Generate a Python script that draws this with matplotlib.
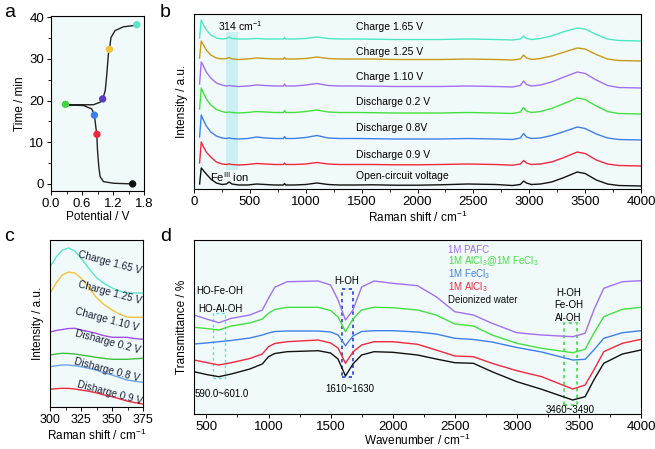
import matplotlib
matplotlib.use('Agg')
import matplotlib.pyplot as plt
from matplotlib.ticker import AutoMinorLocator
from matplotlib.patches import Rectangle

plt.rcParams['font.family'] = ['Liberation Sans', 'DejaVu Sans']
plt.rcParams['mathtext.fontset'] = 'custom'
plt.rcParams['mathtext.rm'] = 'Liberation Sans'
plt.rcParams['mathtext.it'] = 'Liberation Sans'

# ---------------- panel a : time vs potential ----------------
a_curve_v = [1.575, 1.21, 1.015, 0.95, 0.925, 0.90, 0.887, 0.868, 0.842, 0.79, 0.63, 0.31, 0.28,
             0.50, 0.82, 0.95, 1.0, 1.05, 1.08, 1.11, 1.13, 1.16, 1.24, 1.40, 1.66]
a_curve_t = [0, 0.16, 0.55, 1.75, 4.1, 8.1, 11.8, 13.6, 16.4, 18.0, 18.8, 19.0, 19.0,
             19.0, 19.0, 19.6, 20.4, 22.4, 26.3, 31.1, 32.1, 35.1, 36.8, 37.7, 38.1]
a_pts_v = [1.58, 0.89, 0.84, 0.28, 1.0, 1.13, 1.66]
a_pts_t = [0.0, 11.9, 16.5, 19.1, 20.4, 32.3, 38.2]
a_pts_c = ['#111111', '#f0283c', '#3f7fe8', '#44d040', '#5a3cc8', '#f3c13a', '#5ae6c8']

# ---------------- panel b : Raman spectra ----------------
raman_x = [50, 65, 80, 110, 150, 200, 250, 290, 314, 340, 400, 480, 560, 640, 720, 800, 810, 820,
           900, 1000, 1100, 1200, 1300, 1450, 1600, 1800, 2000, 2200, 2450, 2700, 2850, 2920, 2950,
           2975, 3020, 3100, 3200, 3300, 3430, 3500, 3600, 3700, 3800, 4000]
raman_ocv = [5, 21, 19, 15, 10, 6, 4.5, 5, 7, 5, 4, 4, 5, 4.5, 4, 4, 5.5, 4, 4, 4.5, 6, 4.5, 4, 4,
             4.2, 3.8, 3.8, 4.2, 5, 4.5, 3.5, 4.5, 8, 6, 4.5, 5, 7, 11, 17, 15.5, 9, 5, 3.5, 3]
raman_d09 = [26, 47, 43, 37, 32, 27, 25, 24.5, 25, 24.5, 24, 24.5, 25.5, 25, 24.5, 24.5, 26, 24.5,
             24.5, 25, 26.5, 25, 24.5, 24.5, 24.5, 24.2, 24.2, 24.5, 25, 24.5, 23.8, 25, 28.5, 26,
             24.5, 25, 27, 31, 37, 35.5, 29, 25, 23.5, 23]
raman_d08 = [52, 74, 70, 63, 57, 53, 51, 50.5, 51, 50.5, 50, 50.5, 52, 51, 50.5, 50.5, 52.5, 50.5,
             50.5, 51.5, 53.5, 51, 50.5, 50.5, 50.3, 50, 50, 50, 50.5, 50, 49.5, 51, 55.5, 52,
             50.5, 51, 53.5, 57, 62, 60.5, 55, 51, 49.5, 49]
raman_d02 = [80, 101, 97, 90, 84, 79.5, 77.5, 76.5, 77, 76.5, 76, 76.5, 77.5, 77, 76.5, 76.5, 78.5,
             76.5, 76.5, 77.5, 79, 77, 76.5, 76.5, 76.3, 76, 76, 76, 76.5, 76, 75.5, 77, 81.5, 78,
             76.5, 77.5, 80.5, 85, 91, 89.5, 83, 77.5, 75.5, 75]
raman_c110 = [105, 127, 124, 117, 111, 106, 104, 103, 103.5, 103, 102.5, 103, 104, 103.5, 103, 103,
              105, 103, 103, 104, 105.5, 103.5, 103, 103, 102.8, 102.5, 102.5, 102.5, 103, 102.5,
              102, 103.5, 108, 104.5, 103, 104, 107, 111.5, 117, 115.5, 109, 103.5, 101.5, 101]
raman_c125 = [131, 148, 145, 139, 134, 131, 130, 130.5, 131.5, 130, 129.5, 130, 131, 130.5, 130, 130,
              131.5, 130, 130, 130.5, 132, 130.5, 130, 130, 130, 129.5, 129.5, 129.5, 130, 129.5,
              129, 130, 134, 131, 129.5, 130.5, 133, 136.5, 141, 140, 134.5, 130, 128.5, 128]
raman_c165 = [151, 169, 165, 159, 154, 151, 150, 150.5, 152, 150.5, 150, 150, 150.5, 150, 150, 150,
              151.5, 150, 150, 150.5, 152, 150.5, 150, 150, 149.8, 149.5, 149.5, 149.5, 150, 149.5,
              149, 150, 153, 150.5, 149.5, 150.5, 153, 157, 161, 160, 154.5, 150, 148.5, 148]
raman_series = [raman_ocv, raman_d09, raman_d08, raman_d02, raman_c110, raman_c125, raman_c165]
raman_colors = ['#111111', '#f0283c', '#3f7fe8', '#44e040', '#a070f0', '#c89a18', '#4de8c0']
raman_labels = ['Open-circuit voltage', 'Discharge 0.9 V', 'Discharge 0.8V', 'Discharge 0.2 V',
                'Charge 1.10 V', 'Charge 1.25 V', 'Charge 1.65 V']
raman_label_y = [13, 34, 61, 87, 112, 137, 162]

# ---------------- panel c : zoom near 314 cm-1 ----------------
zoom_x = [300, 305, 310, 315, 320, 325, 331, 337, 343, 350, 356, 362, 368, 375]
zoom_c165 = [140, 150, 157, 159, 156, 149, 139, 130, 124, 119, 116, 114, 114, 114]
zoom_c125 = [113.7, 124, 132, 135, 134, 129, 120, 110, 103, 97, 93, 90, 89.7, 89.7]
zoom_c110 = [75, 76.5, 77.5, 78.5, 78.7, 77, 75.5, 73.7, 71.5, 69.7, 69.7, 69.7, 68.5, 67.7]
zoom_d02 = [52, 53, 53.7, 53.5, 53, 52, 51, 49.7, 48.7, 47.7, 47.7, 47.7, 48.2, 48.7]
zoom_d08 = [40.3, 41.3, 42, 42, 41.3, 40.3, 38.8, 37, 34.5, 32, 29.5, 27, 25.8, 24.7]
zoom_d09 = [17.7, 18.3, 18.7, 18.6, 18, 17, 15.8, 14.3, 12.3, 10.3, 8.2, 6, 4.5, 3]
zoom_series = [zoom_d09, zoom_d08, zoom_d02, zoom_c110, zoom_c125, zoom_c165]
zoom_colors = ['#f0283c', '#6aa4ec', '#3cc040', '#a050e0', '#f3c13a', '#5ae6c8']
zoom_labels = ['Disharge 0.9 V', 'Disharge 0.8 V', 'Disharge 0.2 V',
               'Charge 1.10 V', 'Charge 1.25 V', 'Charge 1.65 V']
zoom_label_x = [348, 345.5, 346.8, 345.5, 348, 348]
zoom_label_y = [14, 37, 65, 87, 114, 144]

# ---------------- panel d : FTIR ----------------
ftir_x = [400, 500, 600, 700, 850, 950, 1000, 1050, 1150, 1400, 1500, 1560, 1620, 1680, 1750,
          1850, 2000, 2200, 2350, 2500, 2650, 2800, 3000, 3200, 3450, 3550, 3620, 3700, 3850, 4000]
ftir_pafc = [99, 95, 91.3, 95.7, 99, 104, 115.7, 126.7, 132.3, 133, 129, 114, 94, 104, 127, 133,
             130.7, 128.3, 117.3, 102.3, 99, 90.7, 81.3, 79, 77.3, 80.7, 104, 125.7, 132.3, 133.3]
ftir_mix = [86.7, 85.5, 84, 88, 91, 95, 100.7, 104.5, 106.7, 106.7, 103.5, 97, 82.3, 95, 104, 106.7,
            106.3, 104, 99, 90, 88, 79, 70.7, 65.7, 61.3, 64.7, 80.7, 97.3, 104.7, 106.7]
ftir_fecl3 = [70, 71, 72.3, 73.5, 76, 79, 81, 82.5, 83, 83, 82, 79, 68.3, 78, 82.5, 83.3, 83.3, 82,
              80, 75.7, 74.5, 72, 66.5, 62, 54, 54.7, 64, 75.7, 81.3, 83.3]
ftir_alcl3 = [54, 51.5, 49, 51.3, 55.5, 60, 67.3, 70.5, 72.3, 74, 71, 66, 50.7, 62, 69, 72.3, 72.3,
              69.7, 64, 58, 57.3, 50.7, 43.3, 37.3, 25, 29, 44, 62.3, 70.7, 74.7]
ftir_water = [42.3, 39.5, 37.3, 40, 45, 50, 57.3, 60.5, 62.3, 63.3, 61, 55, 38, 50, 59, 62.3, 61.7,
              59, 55, 51.3, 50.7, 42.3, 32.3, 24.7, 14, 17.3, 34, 50.7, 60, 64]
ftir_series = [ftir_water, ftir_alcl3, ftir_fecl3, ftir_mix, ftir_pafc]
ftir_colors = ['#111111', '#f0283c', '#3f7fe8', '#44e040', '#a070f0']
ftir_labels = ['Deionized water', '1M AlCl$_3$', '1M FeCl$_3$', '1M AlCl$_3$@1M FeCl$_3$', '1M PAFC']
ftir_label_y = [114, 126.7, 140, 153, 164]

W, H = 655, 449
fig = plt.figure(figsize=(W / 100, H / 100), dpi=100)
bg = '#f1fafa'


def px_axes(left, top, right, bottom, tsize=9.5):
    ax = fig.add_axes([left / W, 1 - bottom / H, (right - left) / W, (bottom - top) / H])
    ax.set_facecolor(bg)
    for s in ax.spines.values():
        s.set_linewidth(0.8)
    ax.tick_params(direction='out', labelsize=tsize, length=3, width=0.7, pad=2)
    ax.tick_params(which='minor', direction='out', length=2, width=0.6)
    return ax


# panel a
ax = px_axes(51, 16, 144, 191)
ax.plot(a_curve_v, a_curve_t, color='#222222', lw=1.0, zorder=2)
ax.scatter(a_pts_v, a_pts_t, c=a_pts_c, s=28, zorder=3, edgecolors='none')
ax.set_xlim(0, 1.8)
ax.set_ylim(-1.7, 40.3)
ax.set_xticks([0, 0.6, 1.2, 1.8])
ax.set_xticklabels(['0.0', '0.6', '1.2', '1.8'])
ax.set_yticks([0, 10, 20, 30, 40])
ax.xaxis.set_minor_locator(AutoMinorLocator(2))
ax.yaxis.set_minor_locator(AutoMinorLocator(2))
ax.set_xlabel('Potential / V', fontsize=8.5, labelpad=1)
ax.set_ylabel('Time / min', fontsize=8.5, labelpad=2)

# panel b
ax = px_axes(194, 14, 641, 189)
ax.add_patch(Rectangle((285, 19), 105, 138, color='#c2eef2', alpha=0.8, lw=0, zorder=1))
for ys, c in zip(raman_series, raman_colors):
    ax.plot(raman_x, ys, color=c, lw=1.0, zorder=2)
for lab, y in zip(raman_labels, raman_label_y):
    ax.text(1450, y, lab, fontsize=7.5, va='center', ha='left')
ax.text(215, 163, '314 cm$^{-1}$', fontsize=7.5, va='center')
ax.text(143, 12, 'Fe$^{\\mathrm{III}}$ ion', fontsize=8, va='center')
ax.set_xlim(0, 4000)
ax.set_ylim(0, 175)
ax.set_yticks([])
ax.set_xticks(range(0, 4001, 500))
ax.xaxis.set_minor_locator(AutoMinorLocator(2))
ax.set_xlabel('Raman shift / cm$^{-1}$', fontsize=8.5, labelpad=1)
ax.set_ylabel('Intensity / a.u.', fontsize=8.5, labelpad=4)

# panel c
ax = px_axes(50, 240, 143, 407, tsize=9)
for ys, c in zip(zoom_series, zoom_colors):
    ax.plot(zoom_x, ys, color=c, lw=1.0)
for lab, x, y in zip(zoom_labels, zoom_label_x, zoom_label_y):
    ax.text(x, y, lab, fontsize=7.3, rotation=-15, ha='center', va='center', color='#1a2238')
ax.set_xlim(300, 375)
ax.set_ylim(0, 167)
ax.set_yticks([])
ax.set_xticks([300, 325, 350, 375])
ax.xaxis.set_minor_locator(AutoMinorLocator(2))
ax.set_xlabel('Raman shift / cm$^{-1}$', fontsize=8.5, labelpad=1)
ax.set_ylabel('Intensity / a.u.', fontsize=8.5, labelpad=4)

# panel d
ax = px_axes(194, 240, 641, 414)
for ys, c in zip(ftir_series, ftir_colors):
    ax.plot(ftir_x, ys, color=c, lw=1.0)
for lab, y, c in zip(ftir_labels, ftir_label_y, ftir_colors):
    ax.text(2443, y, lab, fontsize=7, color=c, va='center', ha='left')
ax.add_patch(Rectangle((555, 35.7), 95, 65, fill=False, ls=(0, (2, 2)), ec='#55e8e0', lw=1.0))
ax.add_patch(Rectangle((1589, 37.3), 94, 87.4, fill=False, ls=(0, (2, 2)), ec='#2b3fd0', lw=1.2))
ax.add_patch(Rectangle((3383, 9), 99, 81.7, fill=False, ls=(0, (2, 2)), ec='#44dd44', lw=1.2))
ax.text(609, 123.3, 'HO-Fe-OH', fontsize=7, ha='center', va='center')
ax.text(615, 105, 'HO-Al-OH', fontsize=7, ha='center', va='center')
ax.text(623, 20, '590.0~601.0', fontsize=7, ha='center', va='center')
ax.text(1630, 133, 'H-OH', fontsize=7, ha='center', va='center')
ax.text(1656, 24.7, '1610~1630', fontsize=7, ha='center', va='center')
ax.text(3415, 121.3, 'H-OH', fontsize=7, ha='center', va='center')
ax.text(3415, 109, 'Fe-OH', fontsize=7, ha='center', va='center')
ax.text(3415, 95.7, 'Al-OH', fontsize=7, ha='center', va='center')
ax.text(3428, 4, '3460~3490', fontsize=7, ha='center', va='center')
ax.set_xlim(400, 4000)
ax.set_ylim(0, 174)
ax.set_yticks([])
ax.set_xticks(range(500, 4001, 500))
ax.xaxis.set_minor_locator(AutoMinorLocator(2))
ax.set_xlabel('Wavenumber / cm$^{-1}$', fontsize=8.5, labelpad=0)
ax.set_ylabel('Transmittance / %', fontsize=8.5, labelpad=4)

# panel letters
for lab, x, y in [('a', 4, 4), ('b', 160, 4), ('c', 4, 228), ('d', 160, 228)]:
    fig.text(x / W, 1 - y / H, lab, fontsize=14, va='top', ha='left')

fig.savefig('out.png', dpi=100)
